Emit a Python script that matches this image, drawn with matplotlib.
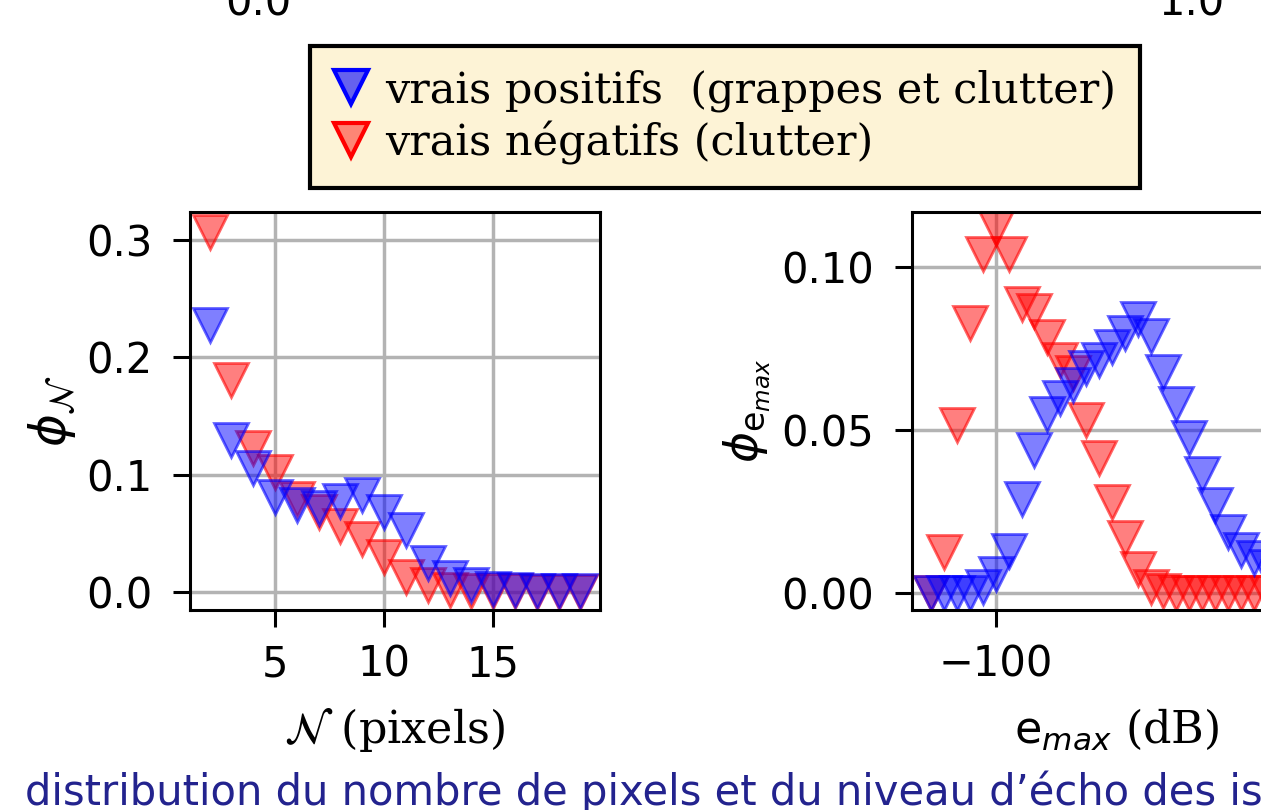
import matplotlib
matplotlib.use('Agg')
import matplotlib.pyplot as plt
from matplotlib.lines import Line2D

plt.rcParams['mathtext.fontset'] = 'dejavusans'

# distribution du nombre de pixels N
n_pixels = [2, 3, 4, 5, 6, 7, 8, 9, 10, 11, 12, 13, 14, 15, 16, 17, 18, 19]
phi_n_vp = [0.228, 0.130, 0.106, 0.081, 0.074, 0.072, 0.078, 0.083, 0.068, 0.053,
            0.025, 0.012, 0.006, 0.003, 0.002, 0.001, 0.001, 0.0005]
phi_n_vn = [0.307, 0.181, 0.123, 0.102, 0.079, 0.068, 0.056, 0.045, 0.030, 0.013,
            0.006, 0.002, 0.001, 0.001, 0.0005, 0.0, 0.0, 0.0]

# distribution du niveau d'echo maximal
e_max = [-110, -108, -106, -104, -102, -100, -98, -96, -94, -92,
         -90, -88, -86, -84, -82, -80, -78, -76, -74, -72,
         -70, -68, -66, -64, -62, -60, -58, -56, -54, -52]
phi_e_vp = [0.0, 0.0, 0.0, 0.0, 0.002, 0.006, 0.013, 0.029, 0.044, 0.055,
            0.060, 0.064, 0.069, 0.0715, 0.0755, 0.080, 0.0843, 0.079, 0.068, 0.058,
            0.0475, 0.0366, 0.027, 0.0187, 0.0132, 0.0107, 0.008, 0.005, 0.003, 0.001]
phi_e_vn = [0.0, 0.0126, 0.0515, 0.083, 0.104, 0.112, 0.104, 0.0887, 0.0866, 0.0785,
            0.0715, 0.0675, 0.053, 0.0415, 0.028, 0.017, 0.0075, 0.002, 0.0005, 0.0,
            0.0, 0.0, 0.0, 0.0, 0.0, 0.0, 0.0, 0.0, 0.0, 0.0]

label_vp = 'vrais positifs  (grappes et clutter)'
label_vn = 'vrais négatifs (clutter)'

W, H = 1261, 810
fig = plt.figure(figsize=(W / 100, H / 100), dpi=100)


def box(x0, y0, x1, y1):
    return [x0 / W, 1 - y1 / H, (x1 - x0) / W, (y1 - y0) / H]


ax1 = fig.add_axes(box(190, 212, 600, 610))
ax2 = fig.add_axes(box(912, 212, 1322, 610))

mk = dict(ls='none', marker='v', ms=24, mew=2)
for ax, x, vp, vn in [(ax1, n_pixels, phi_n_vp, phi_n_vn),
                      (ax2, e_max, phi_e_vp, phi_e_vn)]:
    ax.plot(x, vn, mfc=(1, 0, 0, 0.5), mec=(1, 0, 0, 0.6), **mk)
    ax.plot(x, vp, mfc=(0, 0, 1, 0.5), mec=(0, 0, 1, 0.6), **mk)
    ax.grid(True, color='#b3b3b3', lw=2.5)
    ax.set_axisbelow(True)
    for s in ax.spines.values():
        s.set_linewidth(2.2)
    ax.tick_params(labelsize=30, length=12, width=2.2)
    ax.tick_params(axis='x', pad=12)
    ax.tick_params(axis='y', pad=15)

ax1.set_xlim(1.1, 19.9)
ax1.set_ylim(-0.0153, 0.324)
ax1.set_xticks([5, 10, 15])
ax1.set_yticks([0.0, 0.1, 0.2, 0.3])

ax2.set_xlim(-113, -49.4)
ax2.set_ylim(-0.0052, 0.117)
ax2.set_xticks([-100, -50])
ax2.set_yticks([0.0, 0.05, 0.10])
ax2.set_yticklabels(['0.00', '0.05', '0.10'])

ax1.set_xlabel(r'$\mathcal{N}$ (pixels)', family='DejaVu Serif', fontsize=32, labelpad=15)
ax1.set_ylabel(r'$\phi_\mathcal{N}$', fontsize=36, labelpad=6)
ax2.set_xlabel(r'$\mathrm{e}_{max}$ (dB)', family='DejaVu Serif', fontsize=32, labelpad=15)
ax2.set_ylabel(r'$\phi_{\mathrm{e}_{max}}$', fontsize=34, labelpad=6)

handles = [
    Line2D([], [], ls='none', marker='v', ms=25, mew=3,
           mfc=(0, 0, 1, 0.6), mec='blue', label=label_vp),
    Line2D([], [], ls='none', marker='v', ms=25, mew=3,
           mfc=(1, 0, 0, 0.45), mec='red', label=label_vn),
]
leg = fig.legend(handles=handles, loc='center', bbox_to_anchor=(725 / W, 1 - 117 / H),
                 prop={'family': 'DejaVu Serif', 'size': 31},
                 fancybox=False, framealpha=1, facecolor='#fdf3d6', edgecolor='black',
                 handlelength=0.8, handletextpad=0.4, labelspacing=0.2, borderpad=0.55)
leg.get_frame().set_linewidth(3)

# bits of the figure above, cut off by the screenshot
fig.text(258 / W, 1 - 16 / H, '0.0', ha='center', va='baseline', fontsize=30)
fig.text(1192 / W, 1 - 16 / H, '1.0', ha='center', va='baseline', fontsize=30)

fig.text(25 / W, 5 / H, 'distribution du nombre de pixels et du niveau d’écho des is',
         ha='left', va='baseline', fontsize=30.1, color='#23238e', family='DejaVu Sans')

fig.savefig('out.png', dpi=100)
